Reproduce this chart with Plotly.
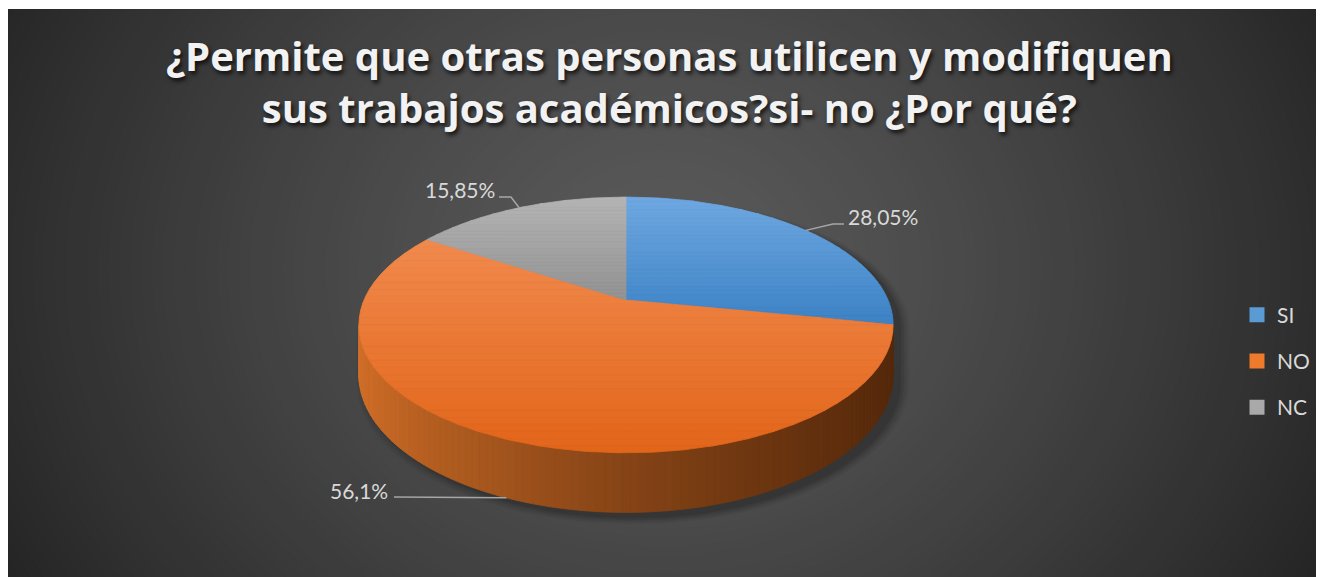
import numpy as np
import plotly.graph_objects as go

# ---------------- data ----------------
categories = ["SI", "NO", "NC"]
values = [28.05, 56.10, 15.85]
title_lines = ["¿Permite que otras personas utilicen y modifiquen",
               "sus trabajos académicos?si- no ¿Por qué?"]

# ---------------- style ----------------
W, H = 1324, 577          # page size
OFF = 8                   # page body margin
FW, FH = W - OFF, H - OFF # figure size
ML, MR, MT, MB = 0, 6, 1, 0
X0, X1 = OFF + ML, OFF + FW - MR
Y0, Y1 = OFF + MT, OFF + FH - MB
top_grad = [((111, 168, 225), (60, 130, 198)),
            ((241, 138, 78), (226, 101, 25)),
            ((180, 180, 180), (146, 146, 146))]
wall_grad = [((70, 120, 180), (25, 55, 95)),
             ((212, 112, 40), (86, 41, 11)),
             ((150, 150, 150), (70, 70, 70))]
legend_colors = ["#5b9bd5", "#f07a2c", "#a9a9a9"]
txt_color = "#d9d9d9"
CX, CY, RX, RY, K, DEPTH = 626, 300, 262, 123, 0.195, 48
label_pos = [(883, 216), (359, 490), (460, 189)]
leader_attach = ["top", "bottom", "top"]
leader_elbows = [[(833, 224), (844, 224)], [(394, 497)], [(499, 197), (511, 197)]]
bg_center, bg_edge = (90, 90, 90), (36, 36, 36)
BG_C = (662, 270)


def rgb(c):
    return "rgb(%d,%d,%d)" % tuple(int(round(v)) for v in c)


def lerp(a, b, t):
    return tuple(a[i] + (b[i] - a[i]) * t for i in range(3))


def proj(phi_deg, dz=0.0):
    p = np.radians(phi_deg)
    X = np.sin(p)
    Z = -np.cos(p)
    s = 1.0 / (1.0 - K * Z)
    return CX + RX * X * s, CY + (RY * Z + dz) * s


def clip_half(pts, yc, ge):
    out = []
    n = len(pts)
    for i in range(n):
        P, Q = pts[i], pts[(i + 1) % n]
        inP = P[1] >= yc if ge else P[1] <= yc
        inQ = Q[1] >= yc if ge else Q[1] <= yc
        if inP:
            out.append(P)
        if inP != inQ:
            t = (yc - P[1]) / (Q[1] - P[1])
            out.append((P[0] + t * (Q[0] - P[0]), yc))
    return out


def poly_trace(pts, color, lw=0.8):
    xs = [p[0] for p in pts] + [pts[0][0]]
    ys = [p[1] for p in pts] + [pts[0][1]]
    col = rgb(color) if isinstance(color, tuple) else color
    return go.Scatter(x=xs, y=ys, mode="lines", fill="toself", fillcolor=col,
                      line=dict(color=col, width=lw), hoverinfo="skip",
                      showlegend=False)


fig = go.Figure()

# ---------- background radial gradient ----------
shapes = []
R = 760.0
N = 70
for i in range(N):
    f = 1.0 - i / N
    r = R * f
    col = lerp(bg_edge, bg_center, 1 - f ** 1.3)
    shapes.append(dict(type="circle", xref="x", yref="y", layer="below",
                       x0=BG_C[0] - r, x1=BG_C[0] + r,
                       y0=BG_C[1] - r * 0.85, y1=BG_C[1] + r * 0.85,
                       fillcolor=rgb(col), line=dict(width=0)))

# ---------- slice angles ----------
total = sum(values)
starts = np.concatenate([[0.0], np.cumsum(values)[:-1]]) / total * 360.0
spans = np.array(values) / total * 360.0
phi_r = np.degrees(np.arccos(-K))
phi_l = 360.0 - phi_r

# ---------- shadow ----------
back = [proj(p) for p in np.linspace(phi_l - 360, phi_r, 120)]
front = [proj(p, DEPTH) for p in np.linspace(phi_r, phi_l, 120)]
sil = back + front
for sc, a in [(1.035, 0.05), (1.025, 0.06), (1.015, 0.08), (1.005, 0.10)]:
    pts = [(CX + (x - CX) * sc + 7, CY + 20 + (y - CY - 20) * sc + 5) for x, y in sil]
    fig.add_trace(poly_trace(pts, "rgba(0,0,0,%.2f)" % a, lw=0))

# ---------- side wall ----------
xl, _ = proj(phi_l)
xr, _ = proj(phi_r)
for k in range(len(values)):
    a, b = starts[k], starts[k] + spans[k]
    lo, hi = max(a, phi_r), min(b, phi_l)
    if hi <= lo:
        continue
    n = max(2, int((hi - lo) / 1.5))
    ph = np.linspace(lo, hi, n + 1)
    for i in range(n):
        p1, p2 = ph[i], ph[i + 1]
        pts = [proj(p1), proj(p2), proj(p2, DEPTH), proj(p1, DEPTH)]
        xm = (pts[0][0] + pts[1][0]) / 2
        t = np.clip((xl - xm) / (xl - xr), 0, 1)
        fig.add_trace(poly_trace(pts, lerp(wall_grad[k][0], wall_grad[k][1], t ** 0.7)))

# ---------- top faces with vertical gradient ----------
for k in range(len(values)):
    a, b = starts[k], starts[k] + spans[k]
    arc = [proj(p) for p in np.linspace(a, b, max(3, int(spans[k] * 1.5)))]
    poly = [(CX, CY)] + arc
    ys = [p[1] for p in poly]
    ymin, ymax = min(ys), max(ys)
    nb = 30
    edges = np.linspace(ymin, ymax, nb + 1)
    for i in range(nb):
        part = clip_half(poly, edges[i], True)
        if len(part) < 3:
            continue
        part = clip_half(part, edges[i + 1], False)
        if len(part) < 3:
            continue
        t = (i + 0.5) / nb
        fig.add_trace(poly_trace(part, lerp(top_grad[k][0], top_grad[k][1], t)))

# ---------- labels & leaders ----------
annotations = []
for k in range(len(values)):
    mid = starts[k] + spans[k] / 2
    end = proj(mid, DEPTH if leader_attach[k] == "bottom" else 0.0)
    if k == 0:
        pts = [end] + leader_elbows[k]
    else:
        pts = leader_elbows[k] + [end]
    fig.add_trace(go.Scatter(x=[p[0] for p in pts], y=[p[1] for p in pts], mode="lines",
                             line=dict(color="#a6a6a6", width=1.5), hoverinfo="skip",
                             showlegend=False))
    s = ("%.2f" % values[k]).rstrip("0").rstrip(".").replace(".", ",") + "%"
    annotations.append(dict(x=label_pos[k][0], y=label_pos[k][1], xref="x", yref="y",
                            text=s, showarrow=False, xanchor="center", yanchor="middle",
                            font=dict(family="Lato", size=21, color=txt_color)))

# title
annotations.append(dict(x=669, y=81, xref="x", yref="y", text="<br>".join(title_lines),
                        showarrow=False, xanchor="center", yanchor="middle",
                        font=dict(family="Open Sans", size=40, color="#f2f2f2", weight="bold",
                                  shadow="2px 3px 4px rgba(0,0,0,0.75)")))

# ---------- legend entries ----------
for k, c in enumerate(categories):
    fig.add_trace(go.Scatter(x=[None], y=[None], mode="markers", name=c,
                             legendgroup=c,
                             marker=dict(symbol="square", size=15, color=legend_colors[k])))

fig.update_layout(
    width=FW, height=FH,
    margin=dict(l=ML, r=MR, t=MT, b=MB),
    paper_bgcolor="white",
    plot_bgcolor=rgb(bg_edge),
    shapes=shapes,
    annotations=annotations,
    xaxis=dict(range=[X0, X1], visible=False, fixedrange=True),
    yaxis=dict(range=[Y1, Y0], visible=False, fixedrange=True),
    showlegend=True,
    legend=dict(x=(1237 - X0) / (X1 - X0), y=(Y1 - 361) / (Y1 - Y0),
                xanchor="left", yanchor="middle",
                bgcolor="rgba(0,0,0,0)", tracegroupgap=16,
                font=dict(family="Lato", size=21, color=txt_color)),
)

fig.write_html("out.html")
